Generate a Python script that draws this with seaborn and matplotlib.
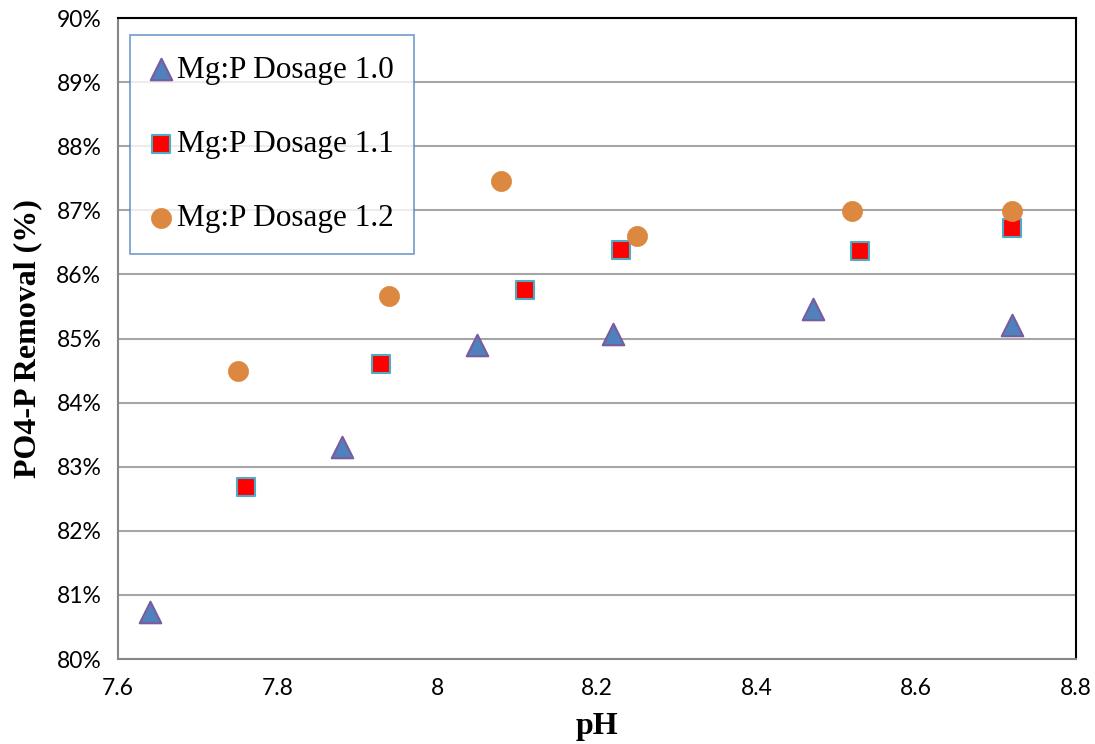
import numpy as np
import pandas as pd
import matplotlib
matplotlib.use("Agg")
import matplotlib.pyplot as plt
import seaborn as sns
from matplotlib.ticker import FuncFormatter, MultipleLocator

# Data
ph_10 = [7.64, 7.88, 8.05, 8.22, 8.47, 8.72]
removal_10 = [80.73, 83.30, 84.90, 85.07, 85.46, 85.21]

ph_11 = [7.76, 7.93, 8.11, 8.23, 8.53, 8.72]
removal_11 = [82.68, 84.61, 85.76, 86.38, 86.37, 86.72]

ph_12 = [7.75, 7.94, 8.08, 8.25, 8.52, 8.72]
removal_12 = [84.49, 85.67, 87.46, 86.60, 86.99, 86.99]

labels = ["Mg:P Dosage 1.0", "Mg:P Dosage 1.1", "Mg:P Dosage 1.2"]

sns.set_style("white")
plt.rcParams['font.family'] = ['Lato', 'DejaVu Sans']
plt.rcParams['text.color'] = 'black'
plt.rcParams['axes.labelcolor'] = 'black'

fig = plt.figure(figsize=(10.95, 7.44), dpi=100)
ax = fig.add_axes([0.1078, 0.1142, 0.8748, 0.8616])

sns.scatterplot(x=ph_10, y=removal_10, ax=ax, marker='^', s=240,
                color='#4F81BD', edgecolor='#7A5C9E', linewidth=1.5,
                label=labels[0], zorder=3)
sns.scatterplot(x=ph_11, y=removal_11, ax=ax, marker='s', s=175,
                color='#FF0000', edgecolor='#4BACC6', linewidth=1.5,
                label=labels[1], zorder=3)
sns.scatterplot(x=ph_12, y=removal_12, ax=ax, marker='o', s=210,
                color='#DC8840', edgecolor='#DC8840', linewidth=0.5,
                label=labels[2], zorder=3)

ax.set_xlim(7.6, 8.8)
ax.set_ylim(80, 90)
ax.xaxis.set_major_locator(MultipleLocator(0.2))
ax.yaxis.set_major_locator(MultipleLocator(1))
ax.xaxis.set_major_formatter(FuncFormatter(lambda v, p: "8" if abs(v - 8) < 1e-6 else f"{v:.1f}"))
ax.yaxis.set_major_formatter(FuncFormatter(lambda v, p: f"{v:.0f}%"))

ax.grid(axis='y', color='#A6A6A6', linewidth=1.5, zorder=0)
ax.grid(axis='x', visible=False)
ax.set_axisbelow(True)

for side in ['left', 'bottom']:
    ax.spines[side].set_color('#868686')
    ax.spines[side].set_linewidth(1.5)
for side in ['top', 'right']:
    ax.spines[side].set_color('black')
    ax.spines[side].set_linewidth(1.5)

ax.tick_params(axis='both', direction='out', length=6, width=1.2,
               color='#868686', labelsize=16.5, labelcolor='black')
ax.tick_params(axis='x', pad=8)
ax.tick_params(axis='y', pad=6)

ax.set_xlabel("pH", fontsize=23, fontweight='bold',
              family='Liberation Serif', labelpad=9)
ax.set_ylabel("PO4-P Removal (%)", fontsize=23, fontweight='bold',
              family='Liberation Serif', labelpad=10)

leg = ax.legend(loc='upper left', bbox_to_anchor=(0.0125, 0.973),
                prop={'family': 'Liberation Serif', 'size': 22.5},
                frameon=True, fancybox=False, borderpad=0.65,
                labelspacing=1.45, handletextpad=0.15, handlelength=0.7,
                borderaxespad=0)
leg.get_frame().set_edgecolor('#4F81BD')
leg.get_frame().set_linewidth(1.2)
for t in leg.get_texts():
    t.set_color('black')

fig.savefig("out.png", dpi=100)
